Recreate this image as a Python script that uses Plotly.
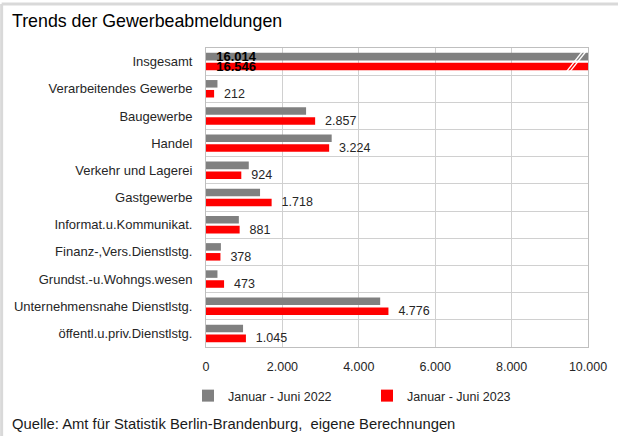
import plotly.graph_objects as go

# Categories (top to bottom)
categories = [
    "Insgesamt",
    "Verarbeitendes Gewerbe",
    "Baugewerbe",
    "Handel",
    "Verkehr und Lagerei",
    "Gastgewerbe",
    "Informat.u.Kommunikat.",
    "Finanz-,Vers.Dienstlstg.",
    "Grundst.-u.Wohngs.wesen",
    "Unternehmensnahe Dienstlstg.",
    "öffentl.u.priv.Dienstlstg.",
]

# Gewerbeabmeldungen, Januar - Juni
values_2022 = [16014, 300, 2620, 3290, 1120, 1415, 860, 390, 300, 4560, 970]
values_2023 = [16546, 212, 2857, 3224, 924, 1718, 881, 378, 473, 4776, 1045]

series_names = ["Januar - Juni 2022", "Januar - Juni 2023"]
x_ticks = [0, 2000, 4000, 6000, 8000, 10000]

FONT = "Liberation Sans, Arial, sans-serif"
GRAY = "#808080"
RED = "#ff0000"
GRID = "#d0d0d0"
NBSP = "\u00a0"


def de_num(v):
    return f"{v:,}".replace(",", ".")


# Only the total gets a label on the 2022 series (bold, inside the bar)
text_2022 = [NBSP * 2 + "<b>" + de_num(values_2022[0]) + "</b>"] + [""] * (len(categories) - 1)
text_2023 = [NBSP * 2 + "<b>" + de_num(values_2023[0]) + "</b>"] + [
    NBSP * 2 + de_num(v) for v in values_2023[1:]
]
pos_2023 = ["inside"] + ["outside"] * (len(categories) - 1)
col_2023 = ["#000000"] + ["#262626"] * (len(categories) - 1)
size_2023 = [13] + [12.5] * (len(categories) - 1)

fig = go.Figure()
fig.add_trace(go.Bar(
    name=series_names[0], y=categories, x=values_2022, orientation="h",
    marker=dict(color=GRAY, line=dict(width=0)),
    text=text_2022, textposition="inside", insidetextanchor="start",
    textfont=dict(family=FONT, size=13, color="#000000"),
    constraintext="none", cliponaxis=True,
))
fig.add_trace(go.Bar(
    name=series_names[1], y=categories, x=values_2023, orientation="h",
    marker=dict(color=RED, line=dict(width=0)),
    text=text_2023, textposition=pos_2023, insidetextanchor="start",
    textfont=dict(family=FONT, size=size_2023, color=col_2023),
    constraintext="none", cliponaxis=True,
))

# Axis-break marks on the truncated total bars
for dx in (0, 90):
    fig.add_shape(type="line", xref="x", yref="y",
                  x0=9390 + dx, y0=0.45, x1=9860 + dx, y1=-0.38,
                  line=dict(color="white", width=1.3), layer="above")

# Outer frame (top and left edge)
fig.add_shape(type="line", xref="paper", yref="paper",
              x0=-0.535, y0=1.147, x1=1.08, y1=1.147,
              line=dict(color="#d9d9d9", width=3))
fig.add_shape(type="line", xref="paper", yref="paper",
              x0=-0.535, y0=1.147, x1=-0.535, y1=-0.3,
              line=dict(color="#d9d9d9", width=3))

fig.add_annotation(
    text="Quelle: Amt für Statistik Berlin-Brandenburg,  eigene Berechnungen",
    xref="paper", yref="paper", x=(10 - 206) / 382, y=(347 - 424) / 299,
    xanchor="left", yanchor="middle", showarrow=False,
    font=dict(family=FONT, size=14.8, color="#1a1a1a"),
)

fig.update_layout(
    width=618, height=436,
    margin=dict(l=206, r=30, t=48, b=89),
    paper_bgcolor="white", plot_bgcolor="white",
    separators=",.",
    barmode="group", bargap=0.27, bargroupgap=0.24,
    font=dict(family=FONT, size=12, color="#262626"),
    title=dict(text="Trends der Gewerbeabmeldungen", x=12 / 618, xanchor="left",
               xref="container", y=1 - 21 / 436, yanchor="middle", yref="container",
               font=dict(family=FONT, size=17.8, color="#000000")),
    showlegend=True,
    legend=dict(orientation="h", x=(188 - 206) / 382, xanchor="left",
                y=(347 - 396) / 299, yanchor="middle",
                font=dict(family=FONT, size=12.5, color="#262626"),
                itemwidth=30, entrywidth=134, traceorder="normal"),
    xaxis=dict(range=[0, 10000], tickvals=x_ticks, tickformat=",d",
               showgrid=True, gridcolor=GRID, gridwidth=1, zeroline=False,
               showline=True, linecolor="#bfbfbf", linewidth=1, mirror=True,
               ticks="", ticklabelstandoff=8,
               tickfont=dict(family=FONT, size=12.5, color="#262626")),
    yaxis=dict(type="category", categoryorder="array", categoryarray=categories,
               autorange="reversed", tickson="boundaries",
               showgrid=True, gridcolor=GRID, gridwidth=1,
               showline=True, linecolor="#bfbfbf", linewidth=1, mirror=True,
               ticks="", ticklabelstandoff=10,
               tickfont=dict(family=FONT, size=13, color="#262626")),
)

fig.write_html("out.html")
